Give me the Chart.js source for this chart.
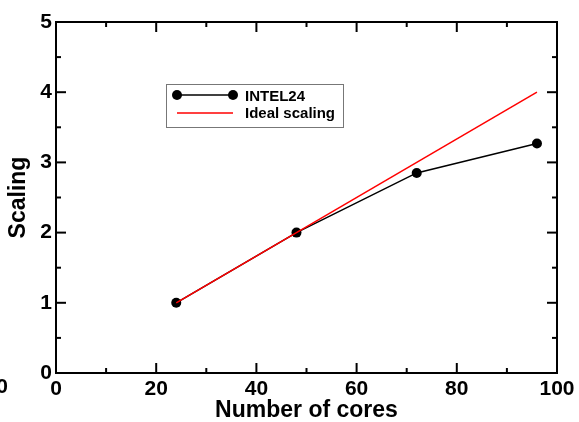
<!DOCTYPE html>
<html>
<head>
<meta charset="utf-8">
<script src="https://cdn.jsdelivr.net/npm/chart.js@4/dist/chart.umd.min.js"></script>
<style>
  html, body { margin: 0; padding: 0; background: #fff; }
  #wrap { width: 579px; height: 422px; }
</style>
</head>
<body>
<div id="wrap"><canvas id="c" width="579" height="422"></canvas></div>
<script>
// Core counts and measured scaling
const cores = [24, 48, 72, 96];
const intel24 = [1, 2, 2.85, 3.27];
const idealCores = [24, 96];
const idealScaling = [1, 4];

const xMajorTicks = [0, 20, 40, 60, 80, 100];
const xMinorTicks = [10, 30, 50, 70, 90];
const yMajorTicks = [0, 1, 2, 3, 4, 5];
const yMinorTicks = [0.5, 1.5, 2.5, 3.5, 4.5];

const seriesNames = ['INTEL24', 'Ideal scaling'];
const FONT = '"Liberation Sans", Arial, Helvetica, sans-serif';

// Frame, inward ticks and the boxed legend
const framePlugin = {
  id: 'frame',
  afterDraw(chart) {
    const ctx = chart.ctx;
    const a = chart.chartArea;
    const xs = chart.scales.x, ys = chart.scales.y;
    ctx.save();
    ctx.strokeStyle = '#000';
    ctx.lineWidth = 2;
    ctx.strokeRect(a.left, a.top, a.right - a.left, a.bottom - a.top);
    const tick = (x1, y1, x2, y2) => { ctx.beginPath(); ctx.moveTo(x1, y1); ctx.lineTo(x2, y2); ctx.stroke(); };
    const MAJ = 10, MIN = 5;
    xMajorTicks.forEach(v => { const p = xs.getPixelForValue(v); tick(p, a.bottom, p, a.bottom - MAJ); tick(p, a.top, p, a.top + MAJ); });
    xMinorTicks.forEach(v => { const p = xs.getPixelForValue(v); tick(p, a.bottom, p, a.bottom - MIN); tick(p, a.top, p, a.top + MIN); });
    yMajorTicks.forEach(v => { const p = ys.getPixelForValue(v); tick(a.left, p, a.left + MAJ, p); tick(a.right, p, a.right - MAJ, p); });
    yMinorTicks.forEach(v => { const p = ys.getPixelForValue(v); tick(a.left, p, a.left + MIN, p); tick(a.right, p, a.right - MIN, p); });

    // stray label at the far left of the tick-label row
    ctx.fillStyle = '#000';
    ctx.font = 'bold 21px ' + FONT;
    ctx.textAlign = 'center';
    ctx.textBaseline = 'middle';
    ctx.fillText('0', 2, 387);

    // legend
    const lx = 166, ly = 84, lw = 177, lh = 43;
    ctx.fillStyle = '#fff';
    ctx.fillRect(lx, ly, lw, lh);
    ctx.strokeStyle = '#777';
    ctx.lineWidth = 1;
    ctx.strokeRect(lx + 0.5, ly + 0.5, lw, lh);
    const ds = chart.data.datasets;
    const r1 = 95, r2 = 113, x1 = 177, x2 = 233;
    ctx.strokeStyle = ds[0].borderColor; ctx.lineWidth = 1.5;
    tick(x1, r1, x2, r1);
    ctx.fillStyle = ds[0].pointBackgroundColor;
    [x1, x2].forEach(x => { ctx.beginPath(); ctx.arc(x, r1, 5, 0, Math.PI * 2); ctx.fill(); });
    ctx.strokeStyle = ds[1].borderColor;
    tick(x1, r2, x2, r2);
    ctx.fillStyle = '#000';
    ctx.font = 'bold 15px ' + FONT;
    ctx.textAlign = 'left';
    ctx.fillText(ds[0].label, 245, 97);
    ctx.fillText(ds[1].label, 245, 113.5);
    ctx.restore();
  }
};

new Chart(document.getElementById('c'), {
  type: 'scatter',
  data: {
    datasets: [
      {
        label: seriesNames[0],
        data: cores.map((c, i) => ({ x: c, y: intel24[i] })),
        showLine: true,
        borderColor: '#000',
        borderWidth: 1.5,
        pointRadius: 5,
        pointBackgroundColor: '#000',
        pointBorderColor: '#000',
        pointBorderWidth: 0,
        order: 2
      },
      {
        label: seriesNames[1],
        data: idealCores.map((c, i) => ({ x: c, y: idealScaling[i] })),
        showLine: true,
        borderColor: '#ff0000',
        borderWidth: 1.5,
        pointRadius: 0,
        order: 1
      }
    ]
  },
  options: {
    responsive: false,
    animation: false,
    layout: { padding: { left: 0, top: 22, right: 22, bottom: 0 } },
    plugins: { legend: { display: false }, tooltip: { enabled: false } },
    scales: {
      x: {
        type: 'linear', min: 0, max: 100,
        afterBuildTicks: s => { s.ticks = xMajorTicks.map(v => ({ value: v })); },
        afterFit: s => { s.height = 49; },
        grid: { display: false, drawTicks: false },
        border: { display: false },
        ticks: { color: '#000', padding: 4, maxRotation: 0, font: { family: FONT, size: 21, weight: 'bold' } },
        title: { display: true, text: 'Number of cores', color: '#000', padding: { top: 0, bottom: -2 }, font: { family: FONT, size: 23, weight: 'bold' } }
      },
      y: {
        type: 'linear', min: 0, max: 5,
        afterBuildTicks: s => { s.ticks = yMajorTicks.map(v => ({ value: v })); },
        afterFit: s => { s.width = 56; },
        grid: { display: false, drawTicks: false },
        border: { display: false },
        ticks: { color: '#000', padding: 4, font: { family: FONT, size: 21, weight: 'bold' } },
        title: { display: true, text: 'Scaling', color: '#000', padding: { top: 5, bottom: 0 }, font: { family: FONT, size: 23, weight: 'bold' } }
      }
    }
  },
  plugins: [framePlugin]
});
</script>
</body>
</html>
